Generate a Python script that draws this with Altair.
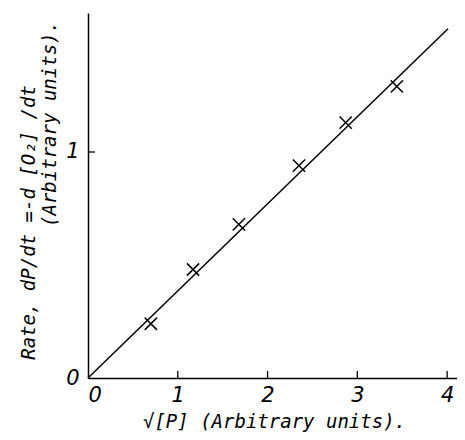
import altair as alt
import pandas as pd

# data
sqrt_p = [0.70, 1.17, 1.68, 2.35, 2.87, 3.44]
rate = [0.24, 0.48, 0.68, 0.94, 1.13, 1.29]
fit_x = [0.0, 4.01]
fit_y = [0.0, 1.545]
x_tick_values = [0, 1, 2, 3, 4]
x_tick_marks = [1, 2, 3, 4]
y_tick_values = [0, 1]
y_tick_marks = [1]

x_title = "√[P] (Arbitrary units)."
y_title_1 = "Rate, dP/dt =-d [O₂] /dt"
y_title_2 = "(Arbitrary units)."

W, H = 369, 365
FONT = "DejaVu Sans Mono"
LFONT = "DejaVu Sans"
FS = 19
LFS = 21

xs = alt.Scale(domain=[0, 4.11], nice=False, zero=False)
ys = alt.Scale(domain=[0, 1.615], nice=False, zero=False)

pts_df = pd.DataFrame({"x": sqrt_p, "y": rate})
fit_df = pd.DataFrame({"x": fit_x, "y": fit_y})
xt_df = pd.DataFrame({"x": x_tick_marks})
yt_df = pd.DataFrame({"y": y_tick_marks})
t2_df = pd.DataFrame({"t": [y_title_2]})

x_axis = alt.Axis(values=x_tick_values, ticks=False, format="d",
                  title=x_title, labelPadding=6,
                  titleX=186, titleY=49, titleBaseline="alphabetic", titleAlign="center")
y_axis = alt.Axis(values=y_tick_values, ticks=False, format="d",
                  title=y_title_1, labelPadding=9,
                  titleAngle=270, titleX=-60, titleY=209,
                  titleBaseline="middle", titleAlign="center")

line = alt.Chart(fit_df).mark_line(color="black", strokeWidth=1.5).encode(
    x=alt.X("x:Q", scale=xs, axis=x_axis),
    y=alt.Y("y:Q", scale=ys, axis=y_axis),
)

pts = alt.Chart(pts_df).mark_point(
    shape="M-1,-1L1,1M-1,1L1,-1", filled=False, stroke="black",
    strokeWidth=1.5, size=150, opacity=1
).encode(x=alt.X("x:Q", scale=xs), y=alt.Y("y:Q", scale=ys))

xticks = alt.Chart(xt_df).mark_rule(color="black", strokeWidth=1.3).encode(
    x=alt.X("x:Q", scale=xs), y=alt.value(H), y2=alt.value(H - 7)
)
yticks = alt.Chart(yt_df).mark_rule(color="black", strokeWidth=1.3).encode(
    y=alt.Y("y:Q", scale=ys), x=alt.value(0), x2=alt.value(7)
)

title2 = alt.Chart(t2_df).mark_text(
    angle=270, font=FONT, fontSize=FS, fontStyle="italic", color="black",
    align="center", baseline="middle"
).encode(text="t:N", x=alt.value(-38), y=alt.value(111))

chart = alt.layer(line, pts, xticks, yticks, title2).properties(
    width=W, height=H,
    autosize=alt.AutoSizeParams(type="none"),
    padding={"left": 80, "top": 5, "right": 0, "bottom": 54},
    background="white",
).configure_view(stroke=None).configure_axis(
    grid=False, domainColor="black", domainWidth=1.5,
    labelFont=LFONT, labelFontSize=LFS, labelFontStyle="italic", labelColor="black",
    titleFont=FONT, titleFontSize=FS, titleFontStyle="italic",
    titleFontWeight="normal", titleColor="black",
)

chart.save("out.html", embed_options={"renderer": "svg", "actions": False})
